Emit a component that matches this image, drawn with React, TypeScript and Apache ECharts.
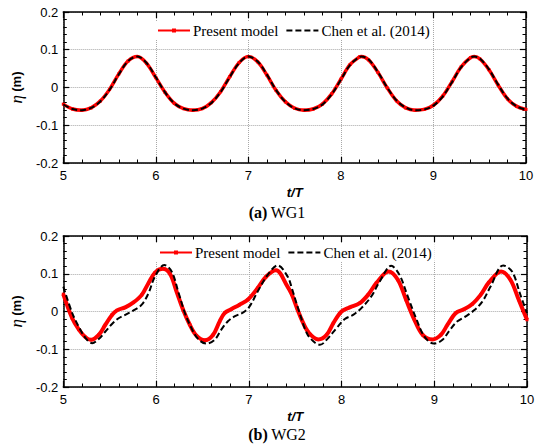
import React, { useEffect, useRef } from "react";
import * as echarts from "echarts";

// ---- data ----
const xRange = [5, 10];
const yRange = [-0.2, 0.2];

// (a) WG1
const wg1Time = [
  5.0, 5.1, 5.2, 5.3, 5.4, 5.5, 5.6, 5.7, 5.8, 5.9,
  6.0, 6.1, 6.2, 6.3, 6.4, 6.5, 6.6, 6.7, 6.8, 6.9,
  7.0, 7.1, 7.2, 7.3, 7.4, 7.5, 7.6, 7.7, 7.8, 7.9,
  8.0, 8.1, 8.2, 8.22, 8.3, 8.4, 8.5, 8.6, 8.7, 8.8, 8.9,
  9.0, 9.1, 9.2, 9.3, 9.4, 9.44, 9.5, 9.6, 9.7, 9.8, 9.9, 10.0,
];
const wg1Chen = [
  -0.045, -0.057, -0.06, -0.054, -0.037, -0.006, 0.035, 0.07, 0.082, 0.065,
  0.027, -0.013, -0.042, -0.056, -0.06, -0.056, -0.041, -0.012, 0.028, 0.065,
  0.082, 0.069, 0.034, -0.007, -0.038, -0.055, -0.06, -0.057, -0.045, -0.018,
  0.021, 0.06, 0.081, 0.082, 0.074, 0.041, 0.0, -0.034, -0.053, -0.06, -0.058,
  -0.048, -0.024, 0.014, 0.054, 0.079, 0.082, 0.077, 0.048, 0.007, -0.029, -0.05, -0.059,
];
const wg1Present = [
  -0.044, -0.057, -0.06, -0.054, -0.036, -0.005, 0.036, 0.07, 0.082, 0.064,
  0.026, -0.013, -0.042, -0.056, -0.06, -0.056, -0.04, -0.011, 0.029, 0.066,
  0.082, 0.068, 0.033, -0.008, -0.038, -0.055, -0.06, -0.057, -0.044, -0.017,
  0.022, 0.061, 0.081, 0.082, 0.073, 0.04, -0.001, -0.035, -0.054, -0.06, -0.058,
  -0.047, -0.023, 0.015, 0.055, 0.079, 0.082, 0.076, 0.047, 0.006, -0.03, -0.05, -0.058,
];

// (b) WG2
const wg2PresentTime = [
  5.0, 5.096, 5.168, 5.239, 5.3, 5.382, 5.454, 5.525, 5.579, 5.668,
  5.757, 5.846, 5.918, 5.989, 6.071, 6.15, 6.221, 6.293, 6.364, 6.436,
  6.525, 6.614, 6.686, 6.739, 6.811, 6.9, 6.989, 7.096, 7.186, 7.293,
  7.418, 7.464, 7.518, 7.571, 7.643, 7.75, 7.839, 7.911, 8.0, 8.089,
  8.196, 8.286, 8.375, 8.507, 8.607, 8.696, 8.786, 8.875, 8.982, 9.071,
  9.143, 9.232, 9.321, 9.411, 9.5, 9.589, 9.721, 9.821, 9.911, 10.0,
];
const wg2Present = [
  0.046, -0.018, -0.048, -0.068, -0.075, -0.062, -0.035, -0.009, 0.003, 0.011,
  0.024, 0.044, 0.075, 0.103, 0.113, 0.1, 0.053, 0.004, -0.035, -0.064,
  -0.076, -0.062, -0.026, -0.004, 0.006, 0.018, 0.031, 0.062, 0.092, 0.109,
  0.066, 0.045, 0.01, -0.022, -0.055, -0.074, -0.062, -0.031, 0.0, 0.011,
  0.022, 0.044, 0.075, 0.106, 0.084, 0.031, -0.022, -0.062, -0.074, -0.062,
  -0.035, -0.004, 0.006, 0.02, 0.044, 0.077, 0.106, 0.084, 0.031, -0.022,
];
const wg2ChenTime = [
  5.0, 5.096, 5.168, 5.239, 5.311, 5.382, 5.454, 5.525, 5.596, 5.668,
  5.757, 5.846, 5.918, 5.989, 6.089, 6.168, 6.239, 6.311, 6.382, 6.454,
  6.543, 6.632, 6.704, 6.775, 6.846, 6.936, 7.007, 7.096, 7.204, 7.311,
  7.418, 7.464, 7.527, 7.625, 7.696, 7.768, 7.857, 7.946, 8.036, 8.125,
  8.214, 8.321, 8.411, 8.536, 8.625, 8.714, 8.804, 8.893, 8.993, 9.089,
  9.171, 9.25, 9.339, 9.429, 9.518, 9.607, 9.743, 9.839, 9.929, 10.0,
];
const wg2Chen = [
  0.066, -0.004, -0.041, -0.07, -0.084, -0.073, -0.053, -0.033, -0.018, -0.009,
  0.003, 0.018, 0.048, 0.093, 0.123, 0.106, 0.053, -0.004, -0.044, -0.073,
  -0.085, -0.075, -0.048, -0.026, -0.013, -0.003, 0.013, 0.053, 0.097, 0.122,
  0.093, 0.062, 0.012, -0.057, -0.079, -0.088, -0.07, -0.044, -0.02, -0.009,
  0.009, 0.04, 0.079, 0.121, 0.097, 0.04, -0.018, -0.066, -0.085, -0.075,
  -0.048, -0.026, -0.013, 0.003, 0.026, 0.066, 0.122, 0.106, 0.044, -0.004,
];

const seriesNames = ["Present model", "Chen et al. (2014)"];
const captions = [
  { tag: "(a)", name: "WG1" },
  { tag: "(b)", name: "WG2" },
];

const pairs = (ts: number[], vs: number[]) => ts.map((t, i) => [t, vs[i]]);

const SANS = "Liberation Sans";
const SERIF = "Liberation Serif";

function xAxes(gridIndex: number) {
  const common = {
    type: "value" as const,
    gridIndex,
    min: xRange[0],
    max: xRange[1],
    interval: 1,
    axisLine: { show: true, onZero: false, lineStyle: { color: "#000", width: 1.5 } },
    axisTick: { show: true, inside: true, length: 6, lineStyle: { color: "#000", width: 1.2 } },
    minorTick: { show: true, splitNumber: 5, length: 3.5, lineStyle: { color: "#000", width: 1 } },
  };
  return [
    {
      ...common,
      position: "bottom",
      axisLabel: { margin: 6, fontFamily: SANS, fontSize: 13, color: "#000" },
      splitLine: { show: true, lineStyle: { type: "dotted", color: "#a8a8a8", width: 1 } },
      name: "t/T",
      nameLocation: "middle",
      nameGap: 23,
      nameTextStyle: { fontFamily: SANS, fontWeight: "bold", fontStyle: "italic", fontSize: 13, color: "#000" },
    },
    {
      ...common,
      position: "top",
      axisLabel: { show: false },
      splitLine: { show: false },
    },
  ];
}

function yAxes(gridIndex: number) {
  const common = {
    type: "value" as const,
    gridIndex,
    min: yRange[0],
    max: yRange[1],
    interval: 0.1,
    axisLine: { show: true, onZero: false, lineStyle: { color: "#000", width: 1.5 } },
    axisTick: { show: true, inside: true, length: 6, lineStyle: { color: "#000", width: 1.2 } },
    minorTick: { show: true, splitNumber: 5, length: 3.5, lineStyle: { color: "#000", width: 1 } },
  };
  return [
    {
      ...common,
      position: "left",
      axisLabel: {
        margin: 5,
        fontFamily: SANS,
        fontSize: 13,
        color: "#000",
        formatter: (v: number) => String(Math.round(v * 10) / 10),
      },
      splitLine: { show: true, lineStyle: { type: "dotted", color: "#a8a8a8", width: 1 } },
      name: "{e|η} {m|(m)}",
      nameLocation: "middle",
      nameRotate: 90,
      nameGap: 26,
      nameTextStyle: {
        color: "#000",
        rich: {
          e: { fontFamily: SERIF, fontStyle: "italic", fontWeight: "normal", fontSize: 17, color: "#000" },
          m: { fontFamily: SANS, fontWeight: "bold", fontSize: 13, color: "#000" },
        },
      },
    },
    {
      ...common,
      position: "right",
      axisLabel: { show: false },
      splitLine: { show: false },
    },
  ];
}

function seriesFor(axisIndex: number, present: number[][], chen: number[][], redWidth: number) {
  return [
    {
      name: seriesNames[0],
      type: "line",
      xAxisIndex: axisIndex,
      yAxisIndex: axisIndex,
      data: present,
      smooth: 0.35,
      symbol: "rect",
      symbolSize: 3,
      showSymbol: true,
      lineStyle: { color: "#ff0000", width: redWidth },
      itemStyle: { color: "#ff0000" },
      z: 2,
    },
    {
      name: seriesNames[1],
      type: "line",
      xAxisIndex: axisIndex,
      yAxisIndex: axisIndex,
      data: chen,
      smooth: 0.35,
      symbol: "none",
      showSymbol: false,
      lineStyle: { color: "#000", width: 2, type: [6, 3] },
      itemStyle: { color: "#000" },
      z: 3,
    },
  ];
}

function legendAt(left: number, top: number) {
  return {
    left,
    top,
    orient: "horizontal",
    data: [
      { name: seriesNames[0] },
      { name: seriesNames[1], itemStyle: { color: "rgba(0,0,0,0)", borderWidth: 0 } },
    ],
    itemWidth: 32,
    itemHeight: 5,
    itemGap: 7,
    padding: [2, 3],
    backgroundColor: "#fff",
    textStyle: { fontFamily: SERIF, fontSize: 15, color: "#000", padding: [0, 0, 0, -2] },
  };
}

function caption(i: number, y: number) {
  return {
    type: "text",
    x: 277,
    y,
    style: {
      text: `{b|${captions[i].tag}} {n|${captions[i].name}}`,
      align: "center",
      verticalAlign: "middle",
      rich: {
        b: { fontFamily: SERIF, fontWeight: "bold", fontSize: 16, fill: "#000", color: "#000" },
        n: { fontFamily: SERIF, fontSize: 16, fill: "#000", color: "#000" },
      },
    },
  };
}

export default function App() {
  const ref = useRef<HTMLDivElement>(null);
  useEffect(() => {
    if (!ref.current) return;
    const chart = echarts.init(ref.current, undefined, { renderer: "svg" });
    chart.setOption({
      animation: false,
      backgroundColor: "#fff",
      grid: [
        { left: 57, top: 12, width: 469, height: 151 },
        { left: 59, top: 236, width: 468, height: 151 },
      ],
      xAxis: [...xAxes(0), ...xAxes(1)],
      yAxis: [...yAxes(0), ...yAxes(1)],
      legend: [legendAt(154, 21), legendAt(156, 243)],
      graphic: [caption(0, 212), caption(1, 434)],
      series: [
        ...seriesFor(0, pairs(wg1Time, wg1Present), pairs(wg1Time, wg1Chen), 3.5),
        ...seriesFor(2, pairs(wg2PresentTime, wg2Present), pairs(wg2ChenTime, wg2Chen), 4),
      ],
    });
    return () => chart.dispose();
  }, []);
  return (
    <div
      ref={ref}
      style={{ position: "absolute", left: 0, top: 0, width: 550, height: 448, background: "#fff" }}
    />
  );
}
